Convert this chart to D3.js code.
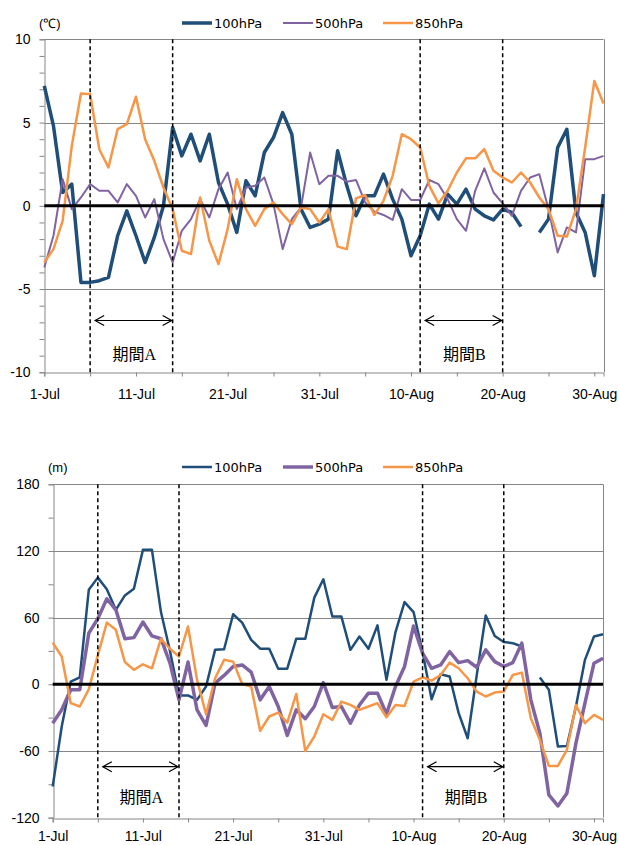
<!DOCTYPE html>
<html>
<head>
<meta charset="utf-8">
<script src="https://cdn.jsdelivr.net/npm/d3@7"></script>
<style>
  body { margin: 0; background: #fff; }
  svg { display: block; }
</style>
</head>
<body>
<script>
const W = 619, H = 845;

// categories: every day from 1-Jul to 31-Aug
const days = d3.timeDay.range(new Date(2013, 6, 1), new Date(2013, 8, 1)).map(d3.timeFormat("%-d-%b"));
const xTicks = ["1-Jul","6-Jul","11-Jul","16-Jul","21-Jul","26-Jul","31-Jul","5-Aug","10-Aug","15-Aug","20-Aug","25-Aug","30-Aug"];
const xLabels = ["1-Jul","11-Jul","21-Jul","31-Jul","10-Aug","20-Aug","30-Aug"];

const seriesNames = ["100hPa", "500hPa", "850hPa"];
const seriesColors = ["#1f4e79", "#8064a2", "#f79646"];

// periods
const periodNames = ["期間A", "期間B"];
const periodStart = ["6-Jul", "11-Aug"];
const periodEnd = ["15-Jul", "20-Aug"];

// temperature anomaly (°C)
const temp100 = [7.2, 4.8, 0.8, 1.3, -4.6, -4.6, -4.5, -4.3, -1.8, -0.3,
  -1.8, -3.4, -1.9, 0.0, 4.7, 3.0, 4.3, 2.7, 4.3, 1.4,
  0.1, -1.6, 1.5, 0.6, 3.2, 4.1, 5.6, 4.3, -0.2, -1.3,
  -1.1, -0.8, 3.3, 1.2, -0.6, 0.6, 0.6, 1.9, 0.4, -0.8,
  -3.0, -1.8, 0.1, -0.8, 0.7, 0.1, 1.0, -0.2, -0.6, -0.85,
  -0.2, -0.4, -1.25, null, -1.6, -0.8, 3.5, 4.6, -0.4, -1.6,
  -4.2, 0.7];
const temp500 = [-3.7, -1.8, 1.6, -0.2, 0.5, 1.3, 0.9, 0.9, 0.2, 1.3,
  0.6, -0.7, 0.4, -2.0, -3.4, -1.5, -0.8, 0.4, -0.7, 1.0,
  2.0, -0.2, 1.1, 1.2, 1.7, 0.1, -2.6, -0.8, -0.1, 3.2,
  1.3, 1.8, 1.8, 1.45, 1.55, 0.2, -0.35, -0.55, -0.85, 1.0,
  0.35, 0.35, 1.55, 1.3, 0.4, -0.8, -1.5, 0.9, 2.25, 0.8,
  0.15, -0.6, 0.9, 1.7, 1.9, -0.2, -2.8, -1.3, -1.6, 2.8,
  2.8, 3.0];
const temp850 = [-3.4, -2.6, -0.9, 3.6, 6.75, 6.7, 3.4, 2.3, 4.6, 4.9,
  6.55, 4.0, 2.7, 1.1, -0.2, -2.7, -2.9, 0.5, -2.1, -3.5,
  -1.4, 1.6, -0.2, -1.2, -0.2, 0.2, -0.5, -1.1, -0.1, -0.2,
  -1.0, -0.2, -2.45, -2.6, 0.45, 0.65, -0.55, 0.3, 1.8, 4.3,
  4.0, 3.5, 1.2, 0.15, 0.9, 2.0, 2.85, 2.85, 3.4, 2.1,
  1.7, 1.4, 2.0, 1.4, 0.5, -0.2, -1.8, -1.85, -0.2, 3.5,
  7.5, 6.15];

// geopotential height anomaly (m)
const hgt100 = [-92, -38, 2.4, 6.3, 85, 96, 85.5, 67, 80, 86,
  121, 121, 65, 30, -10, -10, -14, -2, 31, 31.5,
  63, 55.5, 40, 32, 32, 14, 14, 41, 41, 78,
  94.5, 61, 61, 31, 43, 32, 53, 4, 47, 74,
  65, 29, -13.5, 9, 7, -26, -48.6, 8, 62, 43.5,
  38, 37, 34, null, 6, -5, -56, -55.5, -20, 22,
  43, 45];
const hgt500 = [-35, -23, -5, -5, 46, 59, 77, 67, 41, 42,
  56, 43.5, 41, 19, -14, 20, -23, -37, 1, 8,
  16, 17.4, 11, -14, -2, -20, -46, -23, -31, -20,
  1.5, -21, -20, -35, -18.6, -8, -8, -26.7, -2, 16,
  52.5, 28, 14.4, 17.4, 29.4, 19.5, 21.3, 15.3, 31, 20.4,
  16, 19.5, 37, -14, -44, -99.6, -109.5, -98, -53, -17,
  19, 23.4];
const hgt850 = [37.5, 25, -17, -20, -4.5, 26, 55.5, 49, 20, 13,
  18, 14.4, 41, 32, 25, 52, 4, -27, 5.4, 22,
  20.4, 0.3, -2, -42, -29, -25.5, -34.5, -8.7, -60, -47,
  -27, -32, -15.6, -18.6, -23, -20, -17, -29.7, -18.6, -19.5,
  2.4, 6.3, 3.3, 8.4, 19.5, 14.4, 5.4, -6.6, -11, -7.5,
  -6.6, 8.4, 10.5, -30.6, -50, -73.5, -73.5, -59, -18.6, -35,
  -27.6, -32];

const tempYTicks = [-10, -5, 0, 5, 10];
const hgtYTicks = [-120, -60, 0, 60, 120, 180];

const svg = d3.select("body").append("svg")
  .attr("width", W)
  .attr("height", H);

const axisGrey = "#868686";
const tickFont = "'Liberation Sans', Arial, sans-serif";

function drawPanel(o) {
  const g = svg.append("g");
  const x = d3.scalePoint().domain(days).range([o.x0, o.x1]);
  const y = d3.scaleLinear().domain(o.domain).range([o.yBot, o.yTop]);

  // gridlines
  g.selectAll(".grid")
    .data(o.yTicks.filter(d => d !== 0 && d !== o.domain[0]))
    .join("line")
    .attr("x1", o.x0).attr("x2", o.x1)
    .attr("y1", d => Math.round(y(d)) + 0.5).attr("y2", d => Math.round(y(d)) + 0.5)
    .attr("stroke", axisGrey).attr("stroke-width", 1);

  // right border
  g.append("line")
    .attr("x1", Math.round(o.x1) + 0.5).attr("x2", Math.round(o.x1) + 0.5)
    .attr("y1", y(o.domain[1])).attr("y2", y(o.domain[0]))
    .attr("stroke", axisGrey).attr("stroke-width", 1);

  // y axis with minor ticks
  const yAxis = d3.axisLeft(y)
    .tickValues(d3.range(o.domain[0], o.domain[1] + o.minor / 2, o.minor))
    .tickSize(5)
    .tickPadding(9)
    .tickFormat(d => o.yTicks.includes(d) ? d : "");
  const ya = g.append("g").attr("transform", `translate(${Math.round(o.x0) + 0.5},0)`).call(yAxis);
  ya.select(".domain").attr("stroke", axisGrey);
  ya.selectAll(".tick line").attr("stroke", axisGrey);
  ya.selectAll("text").attr("font-family", tickFont).attr("font-size", 14).attr("fill", "#000");

  // x axis
  const xAxis = d3.axisBottom(x)
    .tickValues(xTicks)
    .tickSize(4)
    .tickFormat(d => xLabels.includes(d) ? d : "");
  const xa = g.append("g").attr("transform", `translate(0,${Math.round(o.yBot) + 0.5})`).call(xAxis);
  xa.select(".domain").attr("stroke", axisGrey);
  xa.selectAll(".tick line").attr("stroke", axisGrey);
  xa.selectAll("text")
    .attr("font-family", tickFont).attr("font-size", 14).attr("fill", "#000")
    .attr("y", o.xLabelOffset).attr("dy", null);

  // series
  const line = d3.line()
    .defined(v => v != null)
    .x((v, i) => x(days[i]))
    .y(v => y(v));
  o.series.forEach((s, k) => {
    g.append("path")
      .datum(s)
      .attr("fill", "none")
      .attr("stroke", seriesColors[k])
      .attr("stroke-width", o.widths[k])
      .attr("stroke-linejoin", "round")
      .attr("d", line);
  });

  // zero line
  g.append("line")
    .attr("x1", o.x0).attr("x2", o.x1)
    .attr("y1", y(0)).attr("y2", y(0))
    .attr("stroke", "#000").attr("stroke-width", 3);

  // period markers
  const dashes = periodStart.concat(periodEnd);
  g.selectAll(".period")
    .data(dashes)
    .join("line")
    .attr("x1", d => x(d)).attr("x2", d => x(d))
    .attr("y1", o.yTop).attr("y2", o.yBot)
    .attr("stroke", "#000").attr("stroke-width", 1.5)
    .attr("stroke-dasharray", "4,3");

  periodNames.forEach((name, k) => {
    const a = x(periodStart[k]) + 5, b = x(periodEnd[k]) - 1, ay = o.arrowY;
    g.append("line")
      .attr("x1", a).attr("x2", b).attr("y1", ay).attr("y2", ay)
      .attr("stroke", "#000").attr("stroke-width", 1.2);
    g.append("path")
      .attr("d", `M${a + 9},${ay - 5}L${a},${ay}L${a + 9},${ay + 5}M${b - 9},${ay - 5}L${b},${ay}L${b - 9},${ay + 5}`)
      .attr("fill", "none").attr("stroke", "#000").attr("stroke-width", 1.2);
    g.append("text")
      .attr("x", (a + b) / 2 + 1)
      .attr("y", o.labelY)
      .attr("text-anchor", "middle")
      .attr("dominant-baseline", "central")
      .attr("font-family", "'Liberation Serif', 'Noto Sans CJK JP', serif")
      .attr("font-size", 16)
      .text(name);
  });

  // unit label
  g.append("text")
    .attr("x", o.unitX).attr("y", o.legendY)
    .attr("dominant-baseline", "central")
    .attr("font-family", tickFont).attr("font-size", 13)
    .text(o.unit);

  // legend
  const legendX = [182, 283, 383];
  seriesNames.forEach((name, k) => {
    g.append("line")
      .attr("x1", legendX[k]).attr("x2", legendX[k] + 30)
      .attr("y1", o.legendY).attr("y2", o.legendY)
      .attr("stroke", seriesColors[k]).attr("stroke-width", o.widths[k]);
    g.append("text")
      .attr("x", legendX[k] + 32).attr("y", o.legendY)
      .attr("dominant-baseline", "central")
      .attr("font-family", "'DejaVu Sans', Verdana, sans-serif").attr("font-size", 13)
      .text(name);
  });
}

drawPanel({
  x0: 44.3, x1: 603.5, yTop: 39.3, yBot: 372.3,
  domain: [-10, 10], minor: 1, yTicks: tempYTicks,
  series: [temp100, temp500, temp850], widths: [3.5, 2, 2.5],
  arrowY: 320.5, labelY: 354, legendY: 23, unit: "(℃)", unitX: 39, xLabelOffset: 26
});

drawPanel({
  x0: 52.7, x1: 603, yTop: 484.3, yBot: 817.6,
  domain: [-120, 180], minor: 30, yTicks: hgtYTicks,
  series: [hgt100, hgt500, hgt850], widths: [2.5, 3.5, 2.5],
  arrowY: 766.7, labelY: 797, legendY: 467, unit: "(m)", unitX: 48, xLabelOffset: 22
});
</script>
</body>
</html>
